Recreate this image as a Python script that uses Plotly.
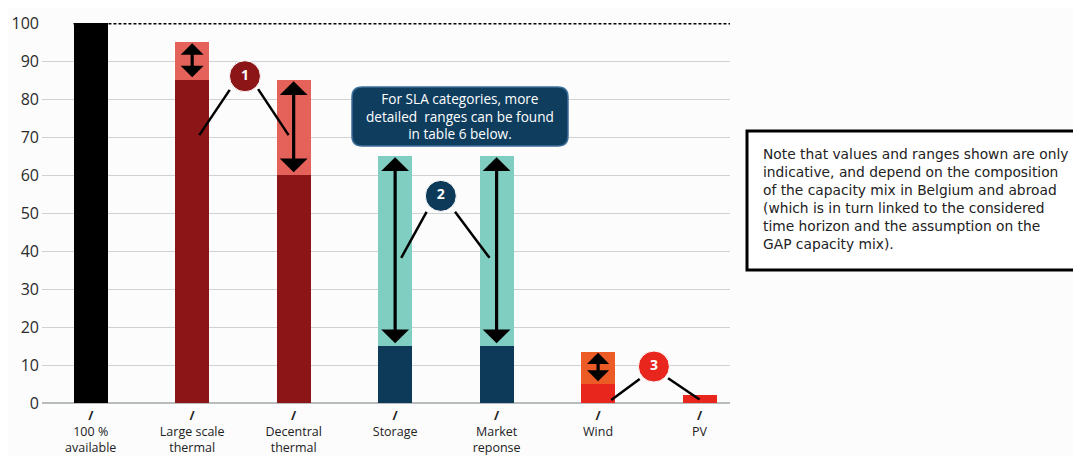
import plotly.graph_objects as go

categories = ["100 % available", "Large scale thermal", "Decentral thermal", "Storage",
              "Market reponse", "Wind", "PV"]
tick_labels = ["100 %<br>available", "Large scale<br>thermal", "Decentral<br>thermal", "Storage",
               "Market<br>reponse", "Wind", "PV"]
base_values = [100, 85, 60, 15, 15, 5, 2]
upper_values = [100, 95, 85, 65, 65, 13.5, 2]
range_values = [u - b for u, b in zip(upper_values, base_values)]
y_ticks = [0, 10, 20, 30, 40, 50, 60, 70, 80, 90, 100]

base_colors = ["#000000", "#8C1518", "#8C1518", "#0E3A5A", "#0E3A5A", "#E8261E", "#E8261E"]
range_colors = ["#000000", "#E5625A", "#E5625A", "#80CDC1", "#80CDC1", "#EC5A26", "#E8261E"]

note_text = ("Note that values and ranges shown are only<br>indicative, and depend on the composition<br>"
             "of the capacity mix in Belgium and abroad<br>(which is in turn linked to the considered<br>"
             "time horizon and the assumption on the<br>GAP capacity mix).")
callout_text = "For SLA categories, more<br>detailed  ranges can be found<br>in table 6 below."

xi = list(range(len(categories)))

# page offset of 8px (body margin) compensated: figure 1073x448
W, H = 1073, 448
L, T = 34, 15
PW, PH = 688, 380


def px(xp):  # page x pixel -> paper
    return (xp - 8 - L) / PW


def py(yp):  # page y pixel -> paper
    return 1 - (yp - 8 - T) / PH


fig = go.Figure()
fig.add_trace(go.Bar(x=xi, y=base_values, marker=dict(color=base_colors, line=dict(width=0)),
                     width=0.335, hoverinfo="skip", showlegend=False))
fig.add_trace(go.Bar(x=xi, y=range_values, marker=dict(color=range_colors, line=dict(width=0)),
                     width=0.335, hoverinfo="skip", showlegend=False))

# dotted 100% line
fig.add_shape(type="line", xref="x", yref="y", x0=-0.17, x1=6.3, y0=100, y1=100,
              line=dict(color="black", width=3, dash="3px,2px"))

# double arrows showing ranges (category index, top, bottom, head size)
arrow_specs = [(1, 94.7, 85.3, 1.2), (2, 84.7, 60.3, 1.45), (3, 64.7, 15.3, 1.45),
               (4, 64.7, 15.3, 1.45), (5, 13.2, 5.3, 1.15)]
for cx, ytop, ybot, hs in arrow_specs:
    fig.add_annotation(x=cx, y=ytop, ax=cx, ay=ybot, xref="x", yref="y", axref="x", ayref="y",
                       text="", showarrow=True, arrowhead=1, startarrowhead=1, arrowside="end+start",
                       arrowsize=hs, startarrowsize=hs, arrowwidth=3.2, arrowcolor="black")

# leader lines for numbered markers
leaders = [
    (1.37, 82.4, 1.07, 70.5), (1.65, 82.6, 1.95, 70.5),
    (3.31, 50.3, 3.06, 38.2), (3.59, 50.3, 3.93, 38.2),
    (5.41, 6.3, 5.13, 0.8), (5.69, 6.5, 6.0, 0.9),
]
for x0, y0, x1, y1 in leaders:
    fig.add_shape(type="line", xref="x", yref="y", x0=x0, y0=y0, x1=x1, y1=y1,
                  line=dict(color="black", width=2.5))

# numbered circles
fig.add_trace(go.Scatter(
    x=[1.52, 3.45, 5.55], y=[86, 54.5, 9.6], mode="markers+text",
    text=["<b>1</b>", "<b>2</b>", "<b>3</b>"], textposition="middle center",
    textfont=dict(color="white", size=14, family="Open Sans"),
    marker=dict(size=31, color=["#8C1518", "#0E3A5A", "#E8261E"], line=dict(color="white", width=1)),
    hoverinfo="skip", showlegend=False, cliponaxis=False))

# callout box (rounded)
x0p, x1p = px(352), px(568)
y0p, y1p = py(146), py(87)
rx, ry = 10 / PW, 10 / PH
path = (f"M {x0p+rx},{y0p} L {x1p-rx},{y0p} Q {x1p},{y0p} {x1p},{y0p+ry} "
        f"L {x1p},{y1p-ry} Q {x1p},{y1p} {x1p-rx},{y1p} L {x0p+rx},{y1p} Q {x0p},{y1p} {x0p},{y1p-ry} "
        f"L {x0p},{y0p+ry} Q {x0p},{y0p} {x0p+rx},{y0p} Z")
fig.add_shape(type="path", xref="paper", yref="paper", path=path,
              fillcolor="#0F3D5E", line=dict(color="#3C6E9A", width=1.5), layer="above")
fig.add_annotation(x=(x0p + x1p) / 2, y=(y0p + y1p) / 2, xref="paper", yref="paper",
                   xanchor="center", yanchor="middle",
                   text=callout_text, showarrow=False, align="center",
                   font=dict(color="white", size=13.6, family="Open Sans"))

# note box
fig.add_shape(type="rect", xref="paper", yref="paper",
              x0=px(747), x1=px(1077), y0=py(270), y1=py(131),
              line=dict(color="black", width=3), fillcolor="white")
fig.add_annotation(x=px(761), y=py(199), xref="paper", yref="paper",
                   xanchor="left", yanchor="middle", text=note_text, showarrow=False, align="left",
                   font=dict(color="#222222", size=13.8, family="DejaVu Sans"))

fig.update_layout(
    width=W, height=H, margin=dict(l=L, r=W - L - PW, t=T, b=H - T - PH),
    barmode="stack", bargap=0, plot_bgcolor="#FCFCFD", paper_bgcolor="#FCFCFD",
    font=dict(family="Open Sans", color="#333333"),
    xaxis=dict(range=[-0.48, 6.3], tickmode="array", tickvals=xi,
               ticktext=["<b>/</b><br>" + t for t in tick_labels],
               tickfont=dict(size=12.5, color="#222222"), showgrid=False, zeroline=False,
               showline=False, ticks="", ticklabelstandoff=3, automargin=False, fixedrange=True),
    yaxis=dict(range=[0, 100], tickvals=y_ticks, tickfont=dict(size=16, color="#2A2A2A"),
               showgrid=True, gridcolor="#CDD3D2", gridwidth=1, zeroline=True,
               zerolinecolor="#B8BCBC", zerolinewidth=1.5, ticks="", ticklabelstandoff=2,
               showline=False, automargin=False, fixedrange=True),
)

fig.write_html("out.html")
